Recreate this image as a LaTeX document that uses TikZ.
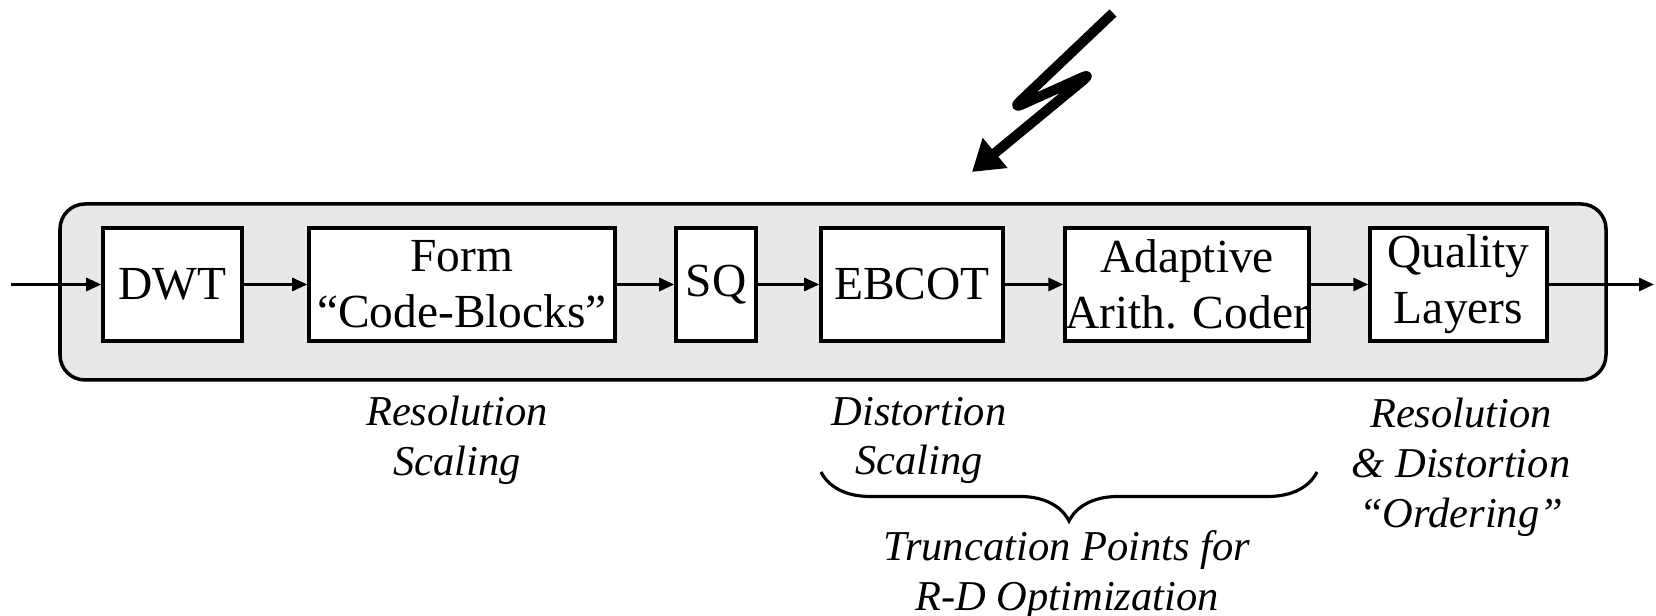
\documentclass[tikz,border=0pt]{standalone}
\usepackage{fontspec}
\setmainfont{Liberation Serif}
\usepackage{tikz}
\usetikzlibrary{shapes,arrows,positioning,calc,decorations.pathreplacing,arrows.meta}

\tikzset{
    blk/.style={draw, line width=1pt, fill=white, minimum height=1.13cm, inner sep=0pt, align=center, font=\fontsize{13.5pt}{15.9pt}\selectfont},
    flow/.style={line width=0.85pt, -{Triangle[length=0.15cm,width=0.13cm]}},
    note/.style={align=center, font=\fontsize{12.1pt}{14.2pt}\selectfont\itshape}
}

\begin{document}
\begin{tikzpicture}
        \useasboundingbox (0,0) rectangle (16.56,6.16);
        % Encoder frame
        \draw[line width=1pt, fill=gray!18, rounded corners=0.25cm] (0.60,2.36) rectangle (16.06,4.12);
        % Blocks
        \node[blk, minimum width=1.39cm] (dwt) at (1.725,3.315) {DWT};
        \node[blk, minimum width=3.06cm] (form) at (4.62,3.315) {Form\\``Code-Blocks''};
        \node[blk, minimum width=0.80cm] (sq) at (7.16,3.315) {SQ};
        \node[blk, minimum width=1.82cm] (ebcot) at (9.12,3.315) {EBCOT};
        \node[blk, minimum width=2.40cm] (coder) at (11.87,3.315) {Adaptive\\Arith. Coder};
        \node[blk, minimum width=1.77cm] (layers) at (14.585,3.315) {Quality\\Layers};
        \coordinate (in) at (0.11,3.315);
        \coordinate (out) at (16.54,3.315);
        \draw[flow] (in) -- (dwt);
        \draw[flow] (dwt) -- (form);
        \draw[flow] (form) -- (sq);
        \draw[flow] (sq) -- (ebcot);
        \draw[flow] (ebcot) -- (coder);
        \draw[flow] (coder) -- (layers);
        \draw[flow] (layers) -- (out);
        % Bolt
        \draw[line width=0.1cm, rounded corners=3pt, line join=round, -{Triangle[length=0.30cm,width=0.37cm]}]
            (11.13,6.03) -- (10.12,5.07) -- (10.92,5.43) -- (9.72,4.44);
        % Notes
        \node[note] (res) at (4.57,1.755) {Resolution\\Scaling};
        \node[note] (dist) at (9.19,1.755) {Distortion\\Scaling};
        \node[note] (order) at (14.61,1.49) {Resolution\\\& Distortion\\``Ordering''};
        \draw[line width=0.9pt, decorate, decoration={brace, mirror, amplitude=0.49cm}] (8.21,1.44) -- (13.17,1.44);
        \node[note] (trunc) at (10.67,0.41) {Truncation Points for\\R-D Optimization};
    \end{tikzpicture}
\end{document}
